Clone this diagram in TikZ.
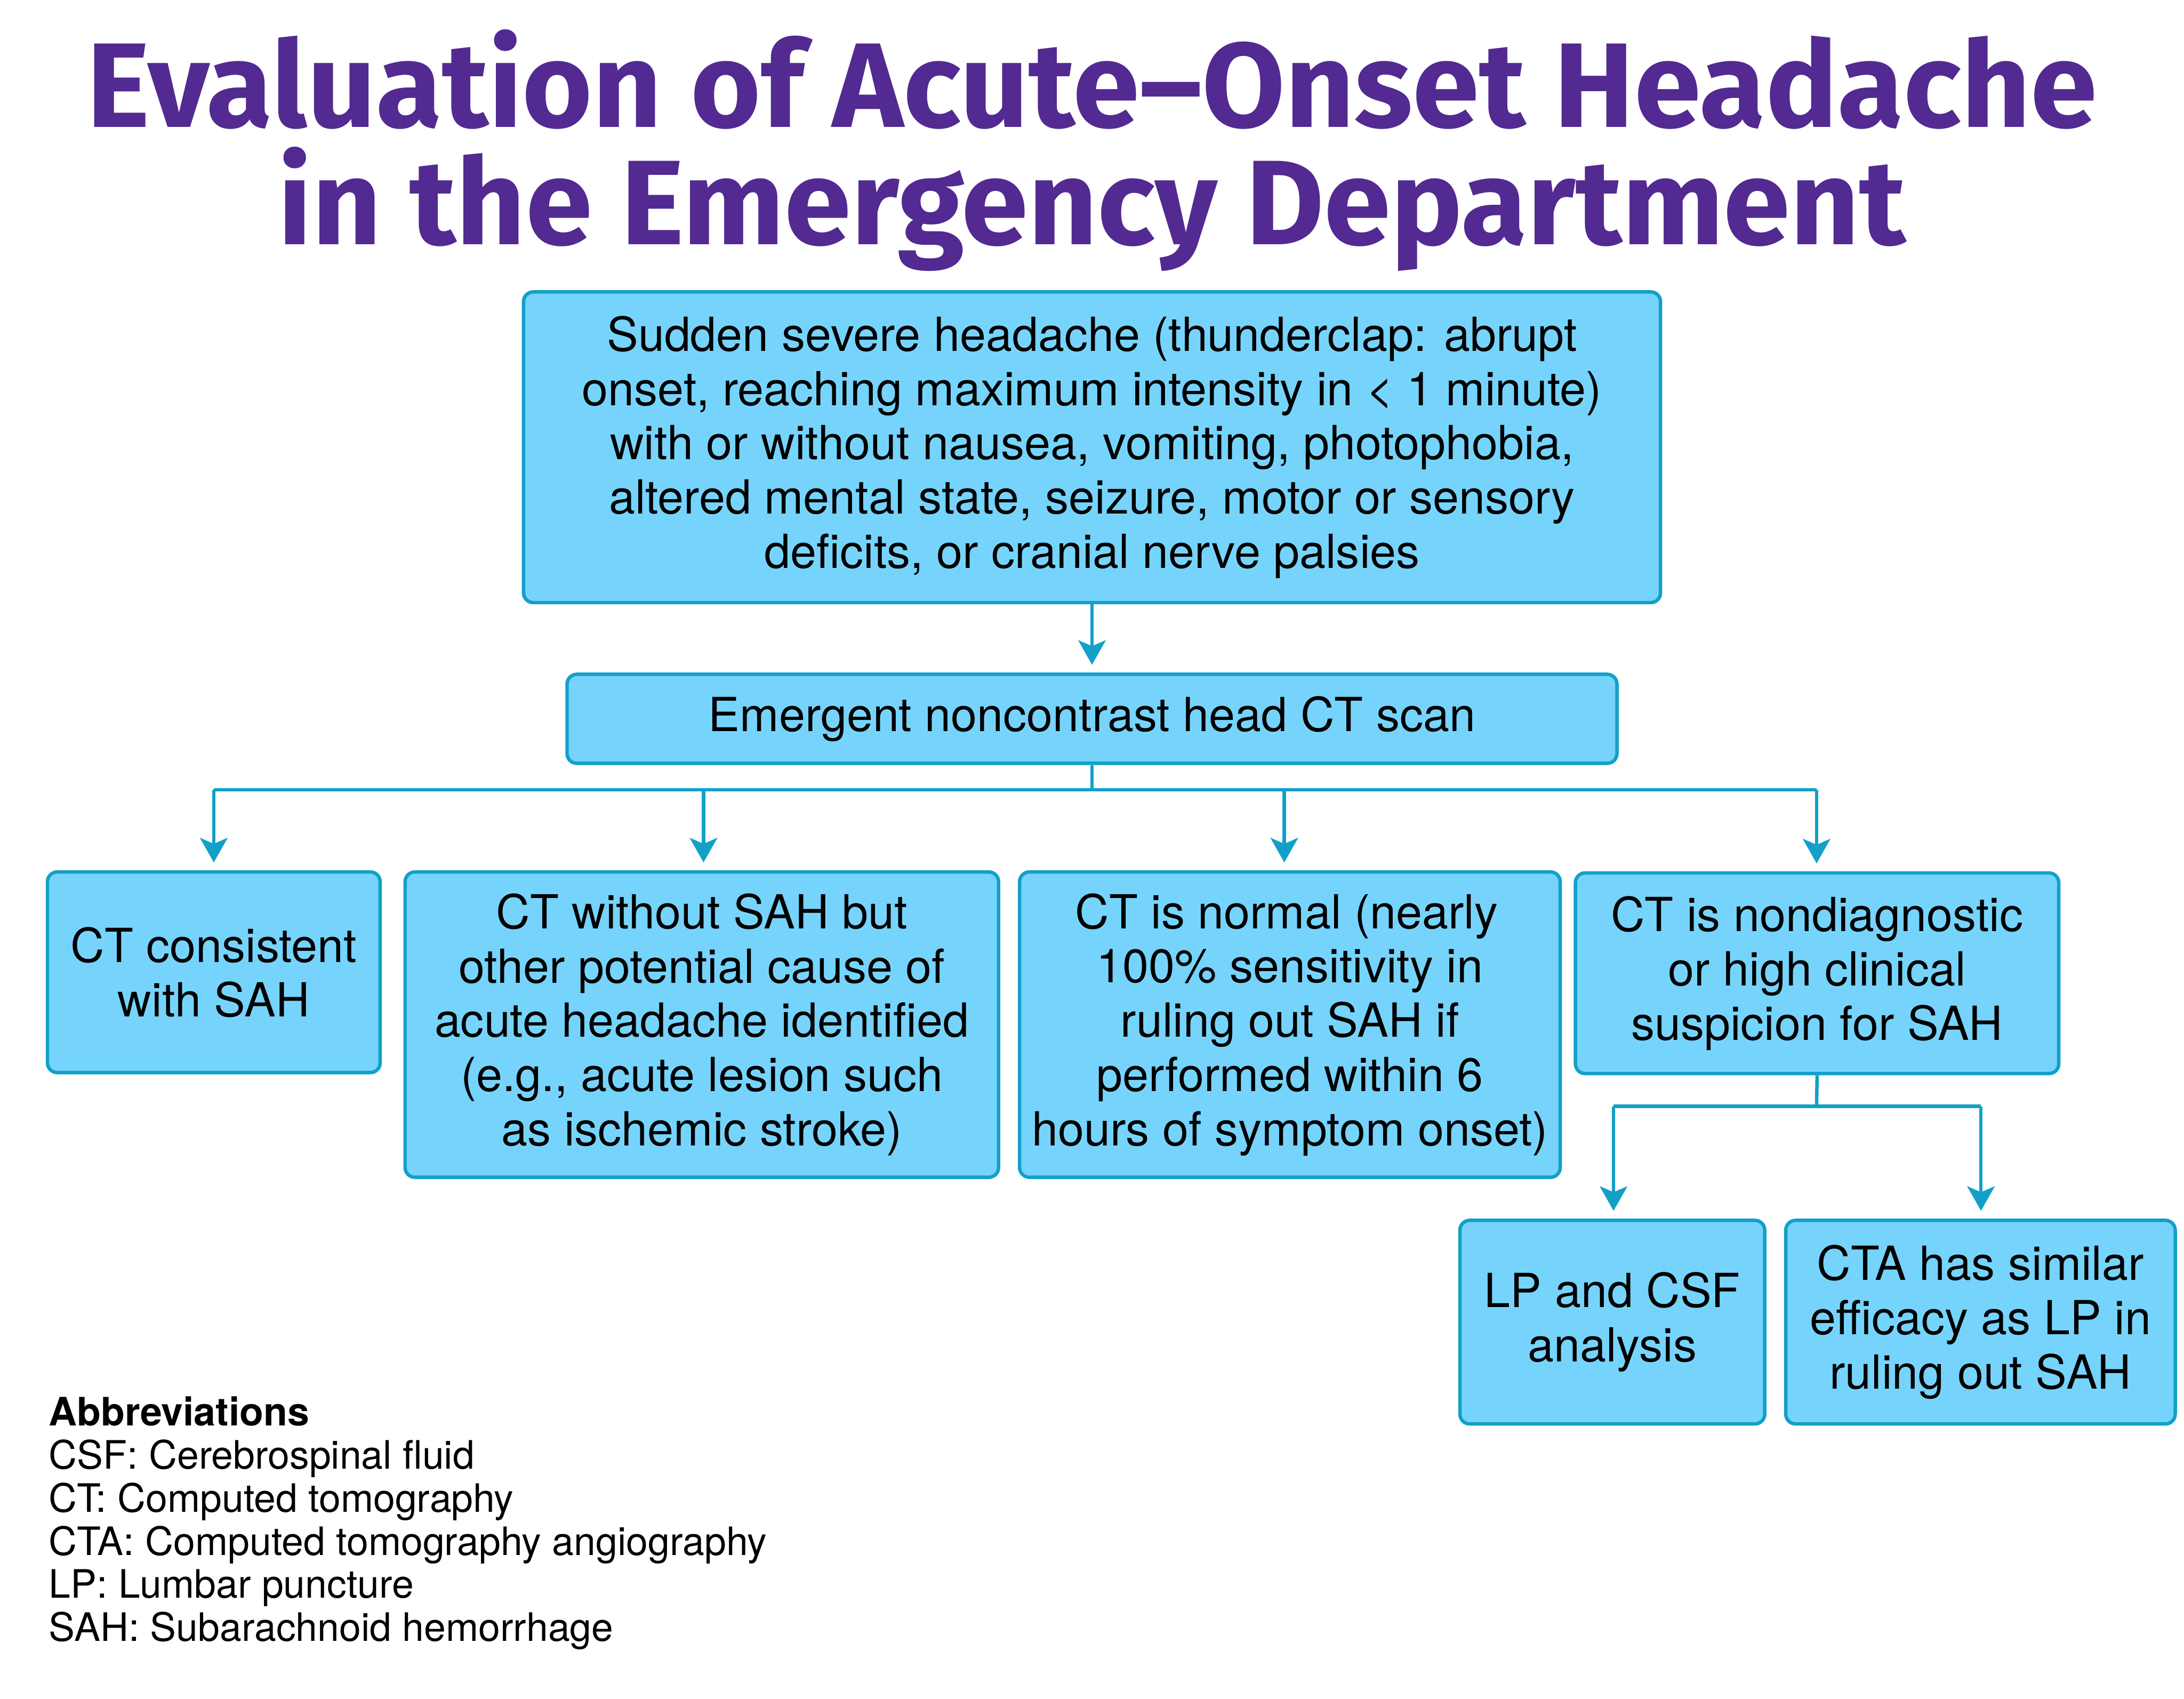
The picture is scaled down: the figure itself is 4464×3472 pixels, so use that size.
\documentclass[tikz,border=0pt]{standalone}
\usepackage{fontspec}
\setmainfont{TeX Gyre Heros}
\newfontfamily\titlefont{Fira Sans}
\usetikzlibrary{arrows.meta,positioning}
\definecolor{boxfill}{HTML}{76D4FC}
\definecolor{boxline}{HTML}{12A0C8}
\definecolor{titlecol}{HTML}{522A91}
\tikzset{
  flowbox/.style={draw=boxline, fill=boxfill, line width=1.75pt, rounded corners=5pt,
    align=center, inner sep=0pt, font=\fontsize{24}{27.75}\selectfont},
  conn/.style={draw=boxline, line width=1.75pt},
  arr/.style={conn, -{Stealth[length=12.5pt,width=14pt,inset=3pt]}, shorten >=4pt},
  titletext/.style={text=titlecol, font=\titlefont\bfseries\fontsize{61.5}{61.5}\selectfont, anchor=base, inner sep=0pt}
}
\begin{document}
\begin{tikzpicture}[x=0.25pt,y=-0.25pt]
\useasboundingbox (0,0) rectangle (4464,3472);
% title
\node[titletext] (t1) at (2232,260) {Evaluation of Acute–Onset Headache};
\node[titletext] (t2) at (2232,500) {in the Emergency Department};
% boxes
\node[flowbox, minimum width=581pt, minimum height=158.75pt] (b1) at (2232,914) {Sudden severe headache (thunderclap: abrupt\\onset, reaching maximum intensity in < 1 minute)\\with or without nausea, vomiting, photophobia,\\altered mental state, seizure, motor or sensory\\deficits, or cranial nerve palsies};
\node[flowbox, minimum width=536.5pt, minimum height=45.5pt] (b2) at (2232,1469) {Emergent noncontrast head CT scan};
\node[flowbox, minimum width=170pt, minimum height=102.5pt] (ba) at (437,1987) {CT consistent\\with SAH};
\node[flowbox, minimum width=303.25pt, minimum height=156pt] (bb) at (1434.5,2094) {CT without SAH but\\other potential cause of\\acute headache identified\\(e.g., acute lesion such\\as ischemic stroke)};
\node[flowbox, minimum width=276.25pt, minimum height=156pt] (bc) at (2636.5,2094) {\hspace*{-3.5pt}CT is normal (nearly\\100\% sensitivity in\\ruling out SAH if\\performed within 6\\hours of symptom onset)};
\node[flowbox, minimum width=247pt, minimum height=102.5pt] (bd) at (3714,1989) {CT is nondiagnostic\\or high clinical\\suspicion for SAH};
\node[flowbox, minimum width=155.75pt, minimum height=104pt] (be) at (3295.5,2702) {LP and CSF\\analysis};
\node[flowbox, minimum width=199pt, minimum height=104pt] (bf) at (4048,2702) {CTA has similar\\efficacy as LP in\\ruling out SAH};
% connectors
\draw[arr] (b1.south) -- (b2.north);
\coordinate (bus) at (2232,1614);
\coordinate (pa) at (437,1614);
\coordinate (pb) at (1438,1614);
\coordinate (pc) at (2625,1614);
\coordinate (pd) at (3713,1614);
\draw[conn] (b2.south) -- (bus);
\draw[conn] (pa) -- (pd);
\draw[arr] (pa) -- (pa |- ba.north);
\draw[arr] (pb) -- (pb |- bb.north);
\draw[arr] (pc) -- (pc |- bc.north);
\draw[arr] (pd) -- (pd |- bd.north);
\coordinate (bus2) at (3713,2261);
\coordinate (pe) at (3298,2261);
\coordinate (pf) at (4049,2261);
\draw[conn] (bd.south) -- (bus2);
\draw[conn] (pe) -- (pf);
\draw[arr] (pe) -- (pe |- be.north);
\draw[arr] (pf) -- (pf |- bf.north);
% abbreviations
\node[anchor=base west, align=left, inner sep=0pt, font=\fontsize{20}{22}\selectfont] (abbr) at (99,3354)
{\textbf{Abbreviations}\\CSF: Cerebrospinal fluid\\CT: Computed tomography\\CTA: Computed tomography angiography\\LP: Lumbar puncture\\SAH: Subarachnoid hemorrhage};
\end{tikzpicture}
\end{document}
